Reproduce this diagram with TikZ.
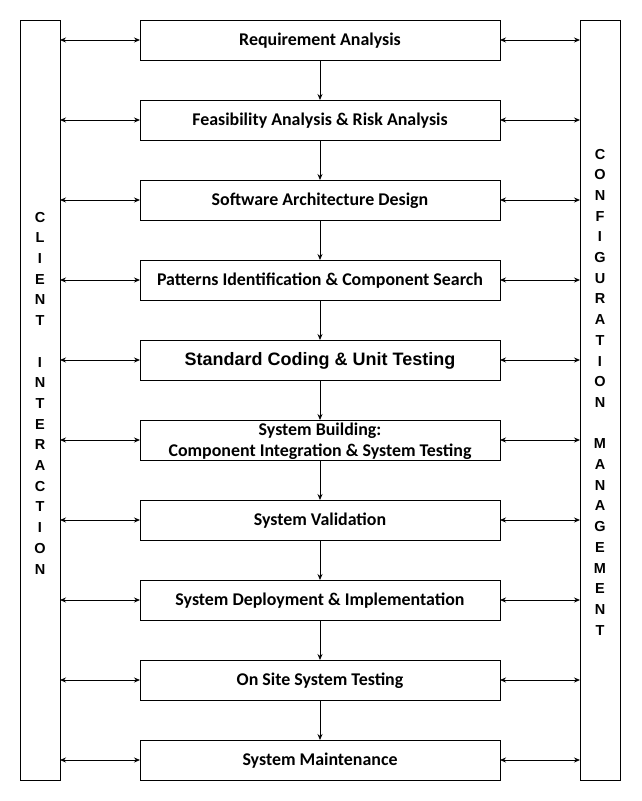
\documentclass[tikz,border=0pt]{standalone}
\usepackage{fontspec}
\setmainfont{Carlito}
\newfontfamily\arialfont{Liberation Sans}
\usetikzlibrary{positioning,arrows.meta}

\begin{document}
\begin{tikzpicture}[
  x=1pt,y=-1pt,line width=0.8pt,
  phase/.style={rectangle,draw,minimum width=360pt,minimum height=40pt,
    outer sep=0pt,inner xsep=2pt,inner ysep=0pt,align=center,
    text height=15pt,text depth=4.5pt,
    font=\fontsize{17.9}{21}\selectfont\bfseries},
  side/.style={rectangle,draw,minimum width=40pt,minimum height=760pt,
    outer sep=0pt,align=center,
    font=\arialfont\fontsize{14.5}{20.7}\selectfont\bfseries},
  flow/.style={-{Stealth[length=6pt,width=5pt]}},
  link/.style={{Stealth[length=6pt,width=5pt]}-{Stealth[length=6pt,width=5pt]}},
  node distance=40pt,
]
\useasboundingbox (0,0) rectangle (641,801);

% the ten phases
\node [phase] (req) at (320,40) {Requirement Analysis};
\node [phase,below=of req] (feas) {Feasibility Analysis \& Risk Analysis};
\node [phase,below=of feas] (arch) {Software Architecture Design};
\node [phase,below=of arch] (pat) {Patterns Identification \& Component Search};
\node [phase,below=of pat,font=\arialfont\fontsize{18}{21}\selectfont\bfseries] (code) {Standard Coding \& Unit Testing};
\node [phase,below=of code,text height=36.4pt,text depth=3.5pt] (build) {System Building:\\Component Integration \& System Testing};
\node [phase,below=of build] (valid) {System Validation};
\node [phase,below=of valid] (deploy) {System Deployment \& Implementation};
\node [phase,below=of deploy] (site) {On Site System Testing};
\node [phase,below=of site] (maint) {System Maintenance};

% the two side bars
\node [side,text depth=14pt] (client) at (40,400)
  {C\\L\\I\\E\\N\\T\\[20.7pt]I\\N\\T\\E\\R\\A\\C\\T\\I\\O\\N};
\node [side,text depth=16pt] (config) at (600,400)
  {C\\O\\N\\F\\I\\G\\U\\R\\A\\T\\I\\O\\N\\[20.7pt]M\\A\\N\\A\\G\\E\\M\\E\\N\\T};

\foreach \a/\b in {req/feas,feas/arch,arch/pat,pat/code,code/build,
                   build/valid,valid/deploy,deploy/site,site/maint}
  \draw [flow] (\a) -- (\b);

\foreach \p in {req,feas,arch,pat,code,build,valid,deploy,site,maint} {
  \draw [link] (client.east |- \p.west) -- (\p.west);
  \draw [link] (\p.east) -- (config.west |- \p.east);
}
\end{tikzpicture}
\end{document}
